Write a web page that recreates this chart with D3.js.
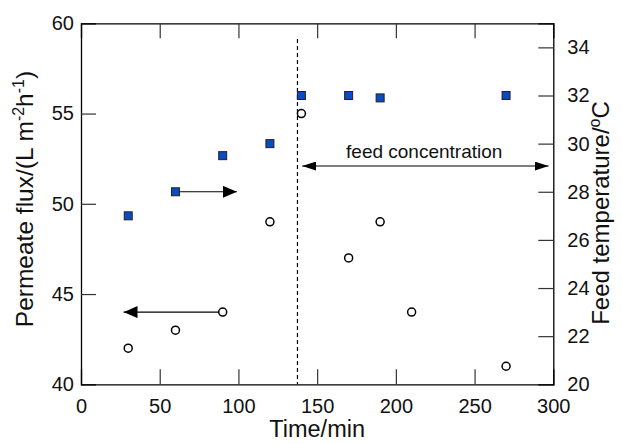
<!DOCTYPE html>
<html><head><meta charset="utf-8">
<script src="https://cdn.jsdelivr.net/npm/d3@7"></script>
<style>body{margin:0;background:#fff}svg text{font-family:"Liberation Sans",Arial,sans-serif;fill:#111}</style>
</head><body><svg id="c" width="622" height="444"></svg>
<script>
const fluxTime = [30, 60, 90, 120, 140, 170, 190, 210, 270];
const fluxValues = [42, 43, 44, 49, 55, 47, 49, 44, 41];
const tempTime = [30, 60, 90, 120, 140, 170, 190, 270];
const tempValues = [27, 28, 29.5, 30, 32, 32, 31.9, 32];
const xTicks = [0, 50, 100, 150, 200, 250, 300];
const leftTicks = [40, 45, 50, 55, 60];
const rightTicks = [20, 22, 24, 26, 28, 30, 32, 34];
const dividerTime = 137.5;

(function(){
const svg = d3.select('#c');
const L = 81, R = 553.3, T = 23.3, B = 384.3;
const x = d3.scaleLinear().domain([0, 300]).range([L, R]);
const yL = d3.scaleLinear().domain([40, 60]).range([B, T]);
const yR = d3.scaleLinear().domain([20, 35]).range([B, T]);

const defs = svg.append('defs');
function marker(id, w, h) {
  defs.append('marker').attr('id',id).attr('viewBox','0 0 10 10').attr('refX',10).attr('refY',5)
    .attr('markerWidth',w).attr('markerHeight',h).attr('markerUnits','userSpaceOnUse').attr('orient','auto-start-reverse')
    .attr('preserveAspectRatio','none')
    .append('path').attr('d','M0,0L10,5L0,10Z').attr('fill','#000');
}
marker('ahBig', 14, 12);
marker('ahSmall', 14, 9);

const fs = 20;
const gBottom = svg.append('g').attr('transform',`translate(0,${B})`)
  .call(d3.axisBottom(x).tickValues(xTicks).tickSize(-15).tickFormat(d3.format('d')));
const gTop = svg.append('g').attr('transform',`translate(0,${T})`)
  .call(d3.axisTop(x).tickValues(xTicks).tickSize(-15).tickFormat(''));
const gLeft = svg.append('g').attr('transform',`translate(${L},0)`)
  .call(d3.axisLeft(yL).tickValues(leftTicks).tickSize(-15));
const gRight = svg.append('g').attr('transform',`translate(${R},0)`)
  .call(d3.axisRight(yR).tickValues(rightTicks).tickSize(-15));
[gBottom, gTop, gLeft, gRight].forEach(g => {
  g.select('.domain').attr('stroke','#000').attr('stroke-width',1.3);
  g.selectAll('.tick line').attr('stroke','#333').attr('stroke-width',1.2);
  g.selectAll('.tick text').attr('font-size',fs).attr('font-family','Liberation Sans, Arial, sans-serif').attr('fill','#111');
});
gBottom.selectAll('.tick').filter(d => d === 0 || d === 300).select('line').remove();
gTop.selectAll('.tick').filter(d => d === 0 || d === 300).select('line').remove();
gLeft.selectAll('.tick').filter(d => d === 40 || d === 60).select('line').remove();
gRight.selectAll('.tick').filter(d => d === 20).select('line').remove();
gRight.selectAll('.tick text').attr('x', 14);
gLeft.selectAll('.tick text').attr('x', -7);
gBottom.selectAll('.tick text').attr('dy', '0').attr('y', 28.5);

svg.append('line').attr('x1',x(dividerTime)).attr('x2',x(dividerTime)).attr('y1',39).attr('y2',B)
  .attr('stroke','#000').attr('stroke-width',1.2).attr('stroke-dasharray','4,3');

svg.append('line').attr('x1',x(60)).attr('x2',x(99)).attr('y1',yR(28)).attr('y2',yR(28))
  .attr('stroke','#000').attr('stroke-width',1.2).attr('marker-end','url(#ahBig)');
svg.append('line').attr('x1',x(90)).attr('x2',x(27)).attr('y1',yL(44)).attr('y2',yL(44))
  .attr('stroke','#000').attr('stroke-width',1.2).attr('marker-end','url(#ahBig)');
svg.append('line').attr('x1',x(140.5)).attr('x2',x(297)).attr('y1',yR(29.07)).attr('y2',yR(29.07))
  .attr('stroke','#000').attr('stroke-width',1.2).attr('marker-start','url(#ahSmall)').attr('marker-end','url(#ahSmall)');
svg.append('text').attr('x',x(218)).attr('y',yR(29.07)-8).attr('text-anchor','middle').attr('font-size',19)
  .text('feed concentration');

svg.append('g').selectAll('circle').data(fluxTime.map((t,i)=>[t,fluxValues[i]])).join('circle')
  .attr('cx',d=>x(d[0])).attr('cy',d=>yL(d[1])).attr('r',4)
  .attr('fill','#fff').attr('stroke','#000').attr('stroke-width',1.5);
const s = 8;
svg.append('g').selectAll('rect').data(tempTime.map((t,i)=>[t,tempValues[i]])).join('rect')
  .attr('x',d=>x(d[0])-s/2).attr('y',d=>yR(d[1])-s/2).attr('width',s).attr('height',s)
  .attr('fill','#0a4cc0').attr('stroke','#222').attr('stroke-width',1);

svg.append('text').attr('x',x(150)).attr('y',437).attr('text-anchor','middle').attr('font-size',23.5).text('Time/min');
const lt = svg.append('text').attr('transform',`translate(33,199) rotate(-90)`).attr('text-anchor','middle').attr('font-size',24.5);
lt.append('tspan').text('Permeate flux/(L m');
lt.append('tspan').attr('dy',-9).attr('font-size',16).text('-2');
lt.append('tspan').attr('dy',9).text('h');
lt.append('tspan').attr('dy',-9).attr('font-size',16).text('-1');
lt.append('tspan').attr('dy',9).text(')');
const rt = svg.append('text').attr('transform',`translate(609,213) rotate(-90)`).attr('text-anchor','middle').attr('font-size',24);
rt.append('tspan').text('Feed temperature/');
rt.append('tspan').attr('dy',-9).attr('font-size',16).text('o');
rt.append('tspan').attr('dy',9).text('C');
})();
</script></body></html>
